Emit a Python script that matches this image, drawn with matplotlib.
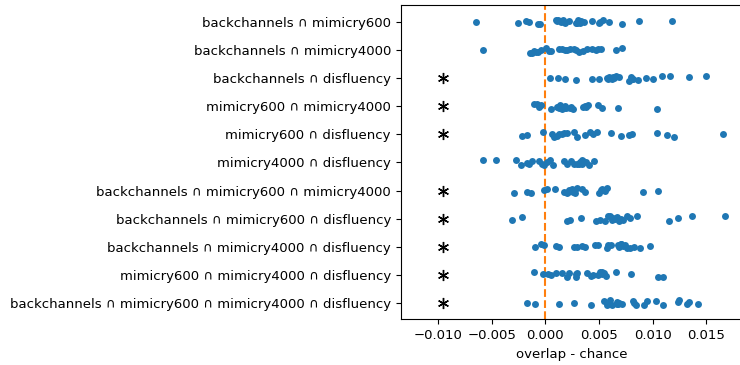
import numpy as np
import pandas as pd
import matplotlib
matplotlib.use('Agg')
import matplotlib.pyplot as plt
import seaborn as sns

labels = [
    'backchannels ∩ mimicry600',
    'backchannels ∩ mimicry4000',
    'backchannels ∩ disfluency',
    'mimicry600 ∩ mimicry4000',
    'mimicry600 ∩ disfluency',
    'mimicry4000 ∩ disfluency',
    'backchannels ∩ mimicry600 ∩ mimicry4000',
    'backchannels ∩ mimicry600 ∩ disfluency',
    'backchannels ∩ mimicry4000 ∩ disfluency',
    'mimicry600 ∩ mimicry4000 ∩ disfluency',
    'backchannels ∩ mimicry600 ∩ mimicry4000 ∩ disfluency',
]

bc_m600 = [-0.00646, -0.00258, -0.00180, -0.00149, -0.00071, -0.00050, 0.00099, 0.00105,
           0.00121, 0.00143, 0.00162, 0.00170, 0.00183, 0.00224, 0.00286, 0.00300, 0.00307,
           0.00323, 0.00330, 0.00360, 0.00432, 0.00503, 0.00510, 0.00534, 0.00596, 0.00711,
           0.00876, 0.01183]
bc_m4000 = [-0.00578, -0.00143, -0.00127, -0.00106, -0.00087, -0.00065, -0.00043, 0.00006,
            0.00037, 0.00050, 0.00130, 0.00152, 0.00183, 0.00205, 0.00230, 0.00267, 0.00286,
            0.00317, 0.00354, 0.00385, 0.00432, 0.00472, 0.00494, 0.00516, 0.00658, 0.00711]
bc_dis = [0.00043, 0.00121, 0.00183, 0.00286, 0.00432, 0.00503, 0.00572, 0.00580, 0.00596,
          0.00618, 0.00630, 0.00640, 0.00658, 0.00690, 0.00783, 0.00800, 0.00804, 0.00820,
          0.00867, 0.00938, 0.01006, 0.01084, 0.01162, 0.01342, 0.01497]
m600_m4000 = [-0.00102, -0.00081, -0.00056, -0.00043, 0.00050, 0.00112, 0.00120, 0.00130,
              0.00140, 0.00152, 0.00165, 0.00174, 0.00185, 0.00193, 0.00230, 0.00240, 0.00261,
              0.00354, 0.00370, 0.00379, 0.00401, 0.00494, 0.00525, 0.00680, 0.01044]
m600_dis = [-0.00214, -0.00168, -0.00025, 0.00059, 0.00081, 0.00106, 0.00130, 0.00152,
            0.00174, 0.00199, 0.00267, 0.00298, 0.00370, 0.00416, 0.00447, 0.00485, 0.00609,
            0.00702, 0.00783, 0.00804, 0.01037, 0.01131, 0.01199, 0.01653]
m4000_dis = [-0.00584, -0.00460, -0.00273, -0.00230, -0.00168, -0.00149, -0.00127, -0.00056,
             -0.00034, -0.00012, 0.00012, 0.00043, 0.00068, 0.00174, 0.00199, 0.00236, 0.00267,
             0.00298, 0.00317, 0.00325, 0.00339, 0.00345, 0.00354, 0.00379, 0.00410, 0.00453]
bc_m600_m4000 = [-0.00292, -0.00168, -0.00137, -0.00012, 0.00019, 0.00090, 0.00174, 0.00199,
                 0.00210, 0.00224, 0.00245, 0.00260, 0.00276, 0.00298, 0.00339, 0.00370,
                 0.00503, 0.00516, 0.00530, 0.00540, 0.00555, 0.00572, 0.00907, 0.01053]
bc_m600_dis = [-0.00314, -0.00214, 0.00205, 0.00230, 0.00332, 0.00472, 0.00509, 0.00556,
               0.00587, 0.00600, 0.00620, 0.00634, 0.00650, 0.00665, 0.00690, 0.00702, 0.00720,
               0.00758, 0.00789, 0.00857, 0.01155, 0.01239, 0.01364, 0.01674]
bc_m4000_dis = [-0.00096, -0.00043, -0.00012, 0.00099, 0.00130, 0.00267, 0.00298, 0.00339,
                0.00370, 0.00463, 0.00494, 0.00572, 0.00580, 0.00609, 0.00680, 0.00690, 0.00702,
                0.00710, 0.00727, 0.00740, 0.00758, 0.00789, 0.00826, 0.00882, 0.00975]
m600_m4000_dis = [-0.00106, -0.00019, 0.00028, 0.00050, 0.00099, 0.00152, 0.00199, 0.00224,
                  0.00286, 0.00290, 0.00298, 0.00391, 0.00422, 0.00447, 0.00494, 0.00510,
                  0.00525, 0.00530, 0.00547, 0.00565, 0.00655, 0.00798, 0.01053, 0.01100]
bc_m600_m4000_dis = [-0.00168, -0.00093, 0.00130, 0.00264, 0.00429, 0.00547, 0.00578, 0.00600,
                     0.00618, 0.00665, 0.00670, 0.00680, 0.00690, 0.00711, 0.00820, 0.00830,
                     0.00842, 0.00919, 0.00944, 0.01028, 0.01093, 0.01239, 0.01245, 0.01317,
                     0.01336, 0.01426]

values = [bc_m600, bc_m4000, bc_dis, m600_m4000, m600_dis, m4000_dis, bc_m600_m4000,
          bc_m600_dis, bc_m4000_dis, m600_m4000_dis, bc_m600_m4000_dis]
significant = [False, False, True, True, True, False, True, True, True, True, True]
star_x = -0.0095

df = pd.DataFrame({
    'combo': [lab for lab, vals in zip(labels, values) for _ in vals],
    'diff': [v for vals in values for v in vals],
})

plt.rcParams['font.size'] = 9.5

fig = plt.figure(figsize=(7.4, 3.65), dpi=100)
ax = fig.add_axes([0.5415, 0.1247, 0.4612, 0.861])

np.random.seed(3)
sns.stripplot(data=df, x='diff', y='combo', order=labels, color='C0', size=5, ax=ax)
ax.axvline(0, color='C1', linestyle='--')

# asterisk marks for significant combinations
sig_rows = [i for i, s in enumerate(significant) if s]
ax.plot([star_x] * len(sig_rows), sig_rows, linestyle='none', marker=(6, 2, 0),
        color='black', markersize=8, markeredgewidth=1.0)

ax.set_xlim(-0.01347, 0.01833)
ax.set_xticks([-0.010, -0.005, 0.000, 0.005, 0.010, 0.015])
ax.set_xlabel('overlap - chance')
ax.set_ylabel('')

fig.savefig('out.png', dpi=100)
